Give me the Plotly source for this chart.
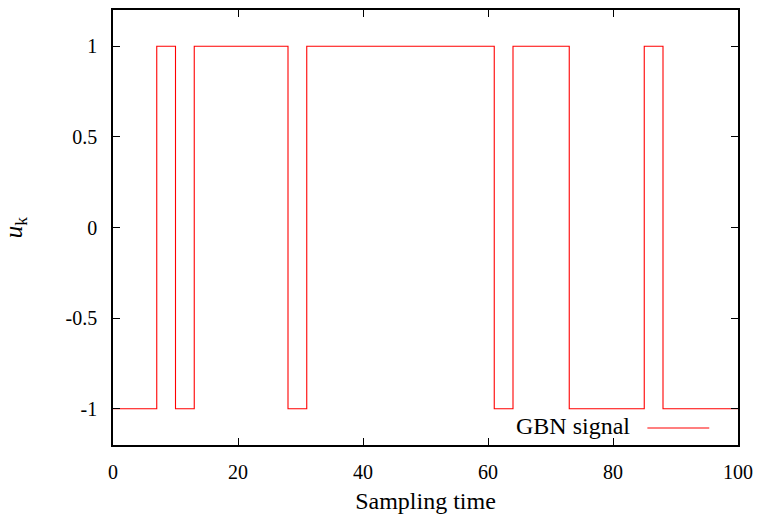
import plotly.graph_objects as go

# Switching instants and signal levels (step held until next instant)
switch_times = [0, 7, 10, 13, 28, 31, 61, 64, 73, 85, 88, 100]
signal_levels = [-1, 1, -1, 1, -1, 1, -1, 1, -1, 1, -1, -1]
x_ticks = [0, 20, 40, 60, 80, 100]
y_ticks = [-1, -0.5, 0, 0.5, 1]
y_tick_labels = ["-1", "-0.5", "0", "0.5", "1"]

FONT = "Liberation Serif, DejaVu Serif, serif"

fig = go.Figure()
fig.add_trace(go.Scatter(
    x=switch_times, y=signal_levels, mode="lines", line_shape="hv",
    line=dict(color="#ff0000", width=1.1), name="GBN signal", showlegend=False,
))

axis_common = dict(
    showgrid=False, zeroline=False, showline=True, linecolor="black", linewidth=1.5,
    mirror="ticks", ticks="inside", ticklen=7, tickwidth=1.2, tickcolor="black",
    tickfont=dict(family=FONT, size=20, color="black"),
)

fig.update_layout(
    width=761, height=519,
    margin=dict(l=113, r=22, t=8, b=74),
    paper_bgcolor="white", plot_bgcolor="white",
    font=dict(family=FONT, size=20, color="black"),
    xaxis=dict(range=[0, 100], tickvals=x_ticks, ticklabelstandoff=8,
               title=dict(text="Sampling time", font=dict(family=FONT, size=24), standoff=10),
               **axis_common),
    yaxis=dict(range=[-1.2, 1.2], tickvals=y_ticks, ticktext=y_tick_labels, ticklabelstandoff=10,
               title=dict(text="<i>u</i><sub>k</sub>", font=dict(family=FONT, size=25), standoff=38),
               **axis_common),
    showlegend=False,
)

# gnuplot-style key: label then sample line, bottom right inside the plot
fig.add_annotation(xref="paper", yref="paper", x=0.83, y=0.043, xanchor="right", yanchor="middle",
                   text="GBN signal", showarrow=False, font=dict(family=FONT, size=24, color="black"))
fig.add_shape(type="line", xref="paper", yref="paper", x0=0.855, x1=0.954, y0=0.039, y1=0.039,
              line=dict(color="#ff0000", width=1.1))

fig.write_html("out.html")
